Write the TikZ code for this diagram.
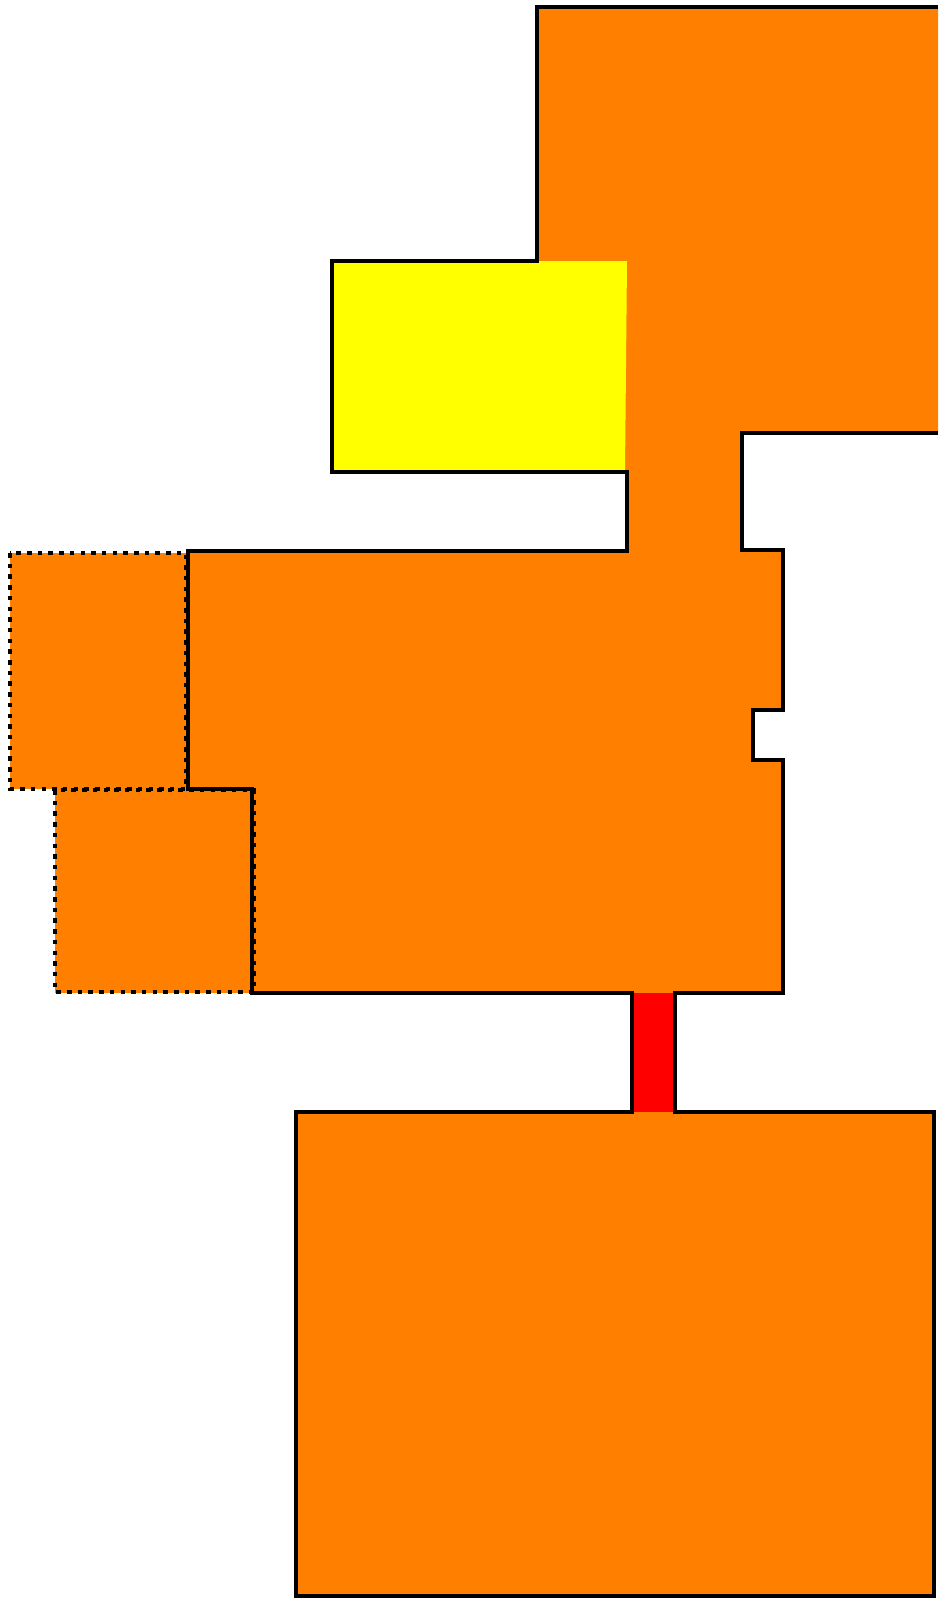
\documentclass[tikz,border=0pt]{standalone}
\usepackage{tikz}

\definecolor{floor}{HTML}{FF8000}
\definecolor{hall}{HTML}{FFFF00}
\definecolor{door}{HTML}{FF0000}

\begin{document}
\begin{tikzpicture}[x=1pt, y=-1pt, line join=miter,
    wall/.style={line width=3.3pt},
    ghost/.style={line width=4.5pt, dash pattern=on 4.5pt off 6.2pt}]
    \useasboundingbox (0,0) rectangle (938,1598);

    % Named corners
    \coordinate (TR) at (938,7);
    \coordinate (TL) at (537,7);
    \coordinate (HN) at (537,261);
    \coordinate (HW) at (332,261);
    \coordinate (HS) at (332,472);
    \coordinate (HE) at (627,472);
    \coordinate (CW) at (627,551);
    \coordinate (MW) at (188,551);
    \coordinate (MS) at (188,789);
    \coordinate (ST) at (252,789);
    \coordinate (SB) at (252,993);
    \coordinate (DL) at (632,993);
    \coordinate (DR) at (675,993);
    \coordinate (ME) at (783,993);
    \coordinate (NB) at (783,760);
    \coordinate (NI) at (753,760);
    \coordinate (NU) at (753,710);
    \coordinate (NT) at (783,710);
    \coordinate (MN) at (783,550);
    \coordinate (CE) at (742,550);
    \coordinate (TB) at (742,433);
    \coordinate (BR) at (938,433);

    % Floor fills
    \fill[floor] (TR) -- (TL) -- (HN) -- (HW) -- (HS) -- (HE) -- (CW) -- (MW)
        -- (MS) -- (ST) -- (SB) -- (DL) -- (DR) -- (ME) -- (NB) -- (NI) -- (NU)
        -- (NT) -- (MN) -- (CE) -- (TB) -- (BR) -- cycle;
    \fill[hall] (HW) -- (627,261) -- (625,472) -- (HS) -- cycle;
    \fill[door] (DL) rectangle (675,1112);
    \fill[floor] (10,553) rectangle (186,789);
    \fill[floor] (55,789) rectangle (254,993);
    \fill[floor] (296,1112) rectangle (934,1596);

    % Walls
    \draw[wall] (TR) -- (TL) -- (HN) -- (HW) -- (HS) -- (HE) -- (CW) -- (MW)
        -- (MS) -- (ST) -- (SB) -- (DL) -- (632,1112) -- (296,1112)
        -- (296,1596) -- (934,1596) -- (934,1112) -- (675,1112) -- (DR)
        -- (ME) -- (NB) -- (NI) -- (NU) -- (NT) -- (MN) -- (CE) -- (TB) -- (BR);

    % Unexplored rooms
    \draw[ghost] (10,553) rectangle (186,789);
    \draw[ghost] (55,790) rectangle (254,992);
\end{tikzpicture}
\end{document}
